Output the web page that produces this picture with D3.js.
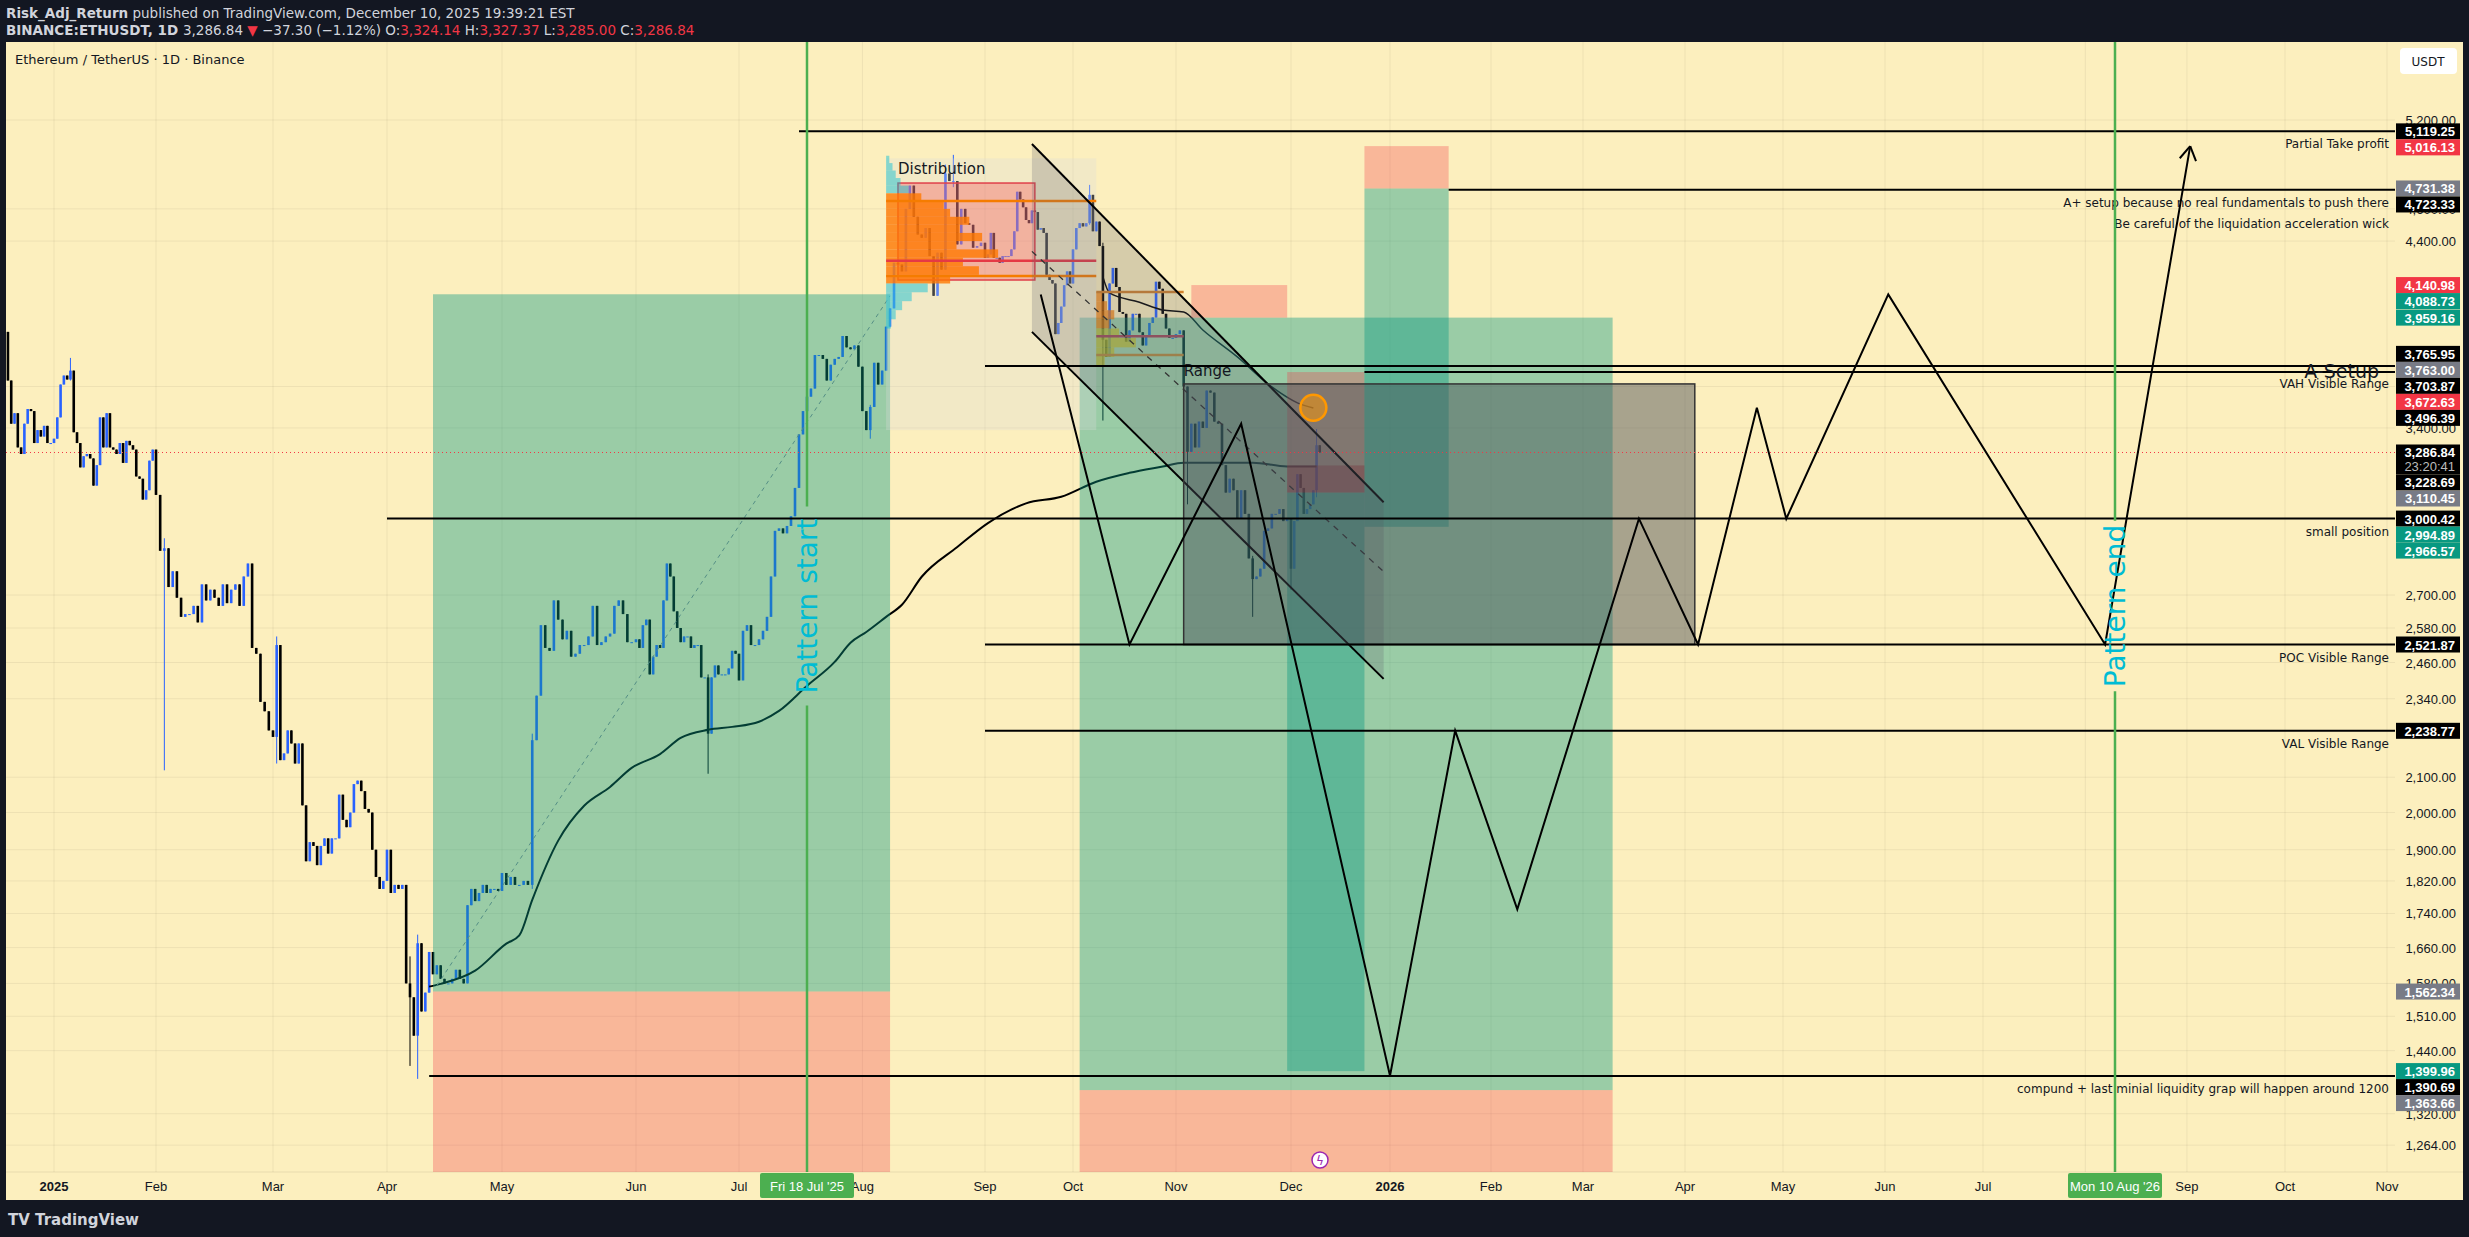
<!DOCTYPE html>
<html><head><meta charset="utf-8">
<script src="https://cdn.jsdelivr.net/npm/d3@7"></script>
<style>body{margin:0;background:#131722;overflow:hidden}svg{display:block}</style>
</head><body>
<script>
// ETHUSDT 1D daily closes, starting 2024-12-18
var startDate = '2024-12-18';
var firstOpen = 3882;
var closes = [
  3630,3420,3470,3310,3280,3420,3490,3480,3330,3390,3360,3410,3330,3330,
  // Jan
  3350,3450,3610,3655,3635,3680,3380,3330,3220,3270,3280,3260,3140,3230,3450,3310,3470,3310,3300,3280,3330,3240,3340,3320,3300,3180,3170,3080,3120,3250,3300,
  // Feb
  3100,2870,2880,2730,2790,2690,2620,2630,2630,2660,2600,2740,2680,2720,2690,2660,2740,2670,2720,2740,2660,2770,2820,2510,2490,2330,2300,2240,
  // Mar
  2220,2520,2150,2170,2240,2200,2140,2200,2020,1870,1920,1910,1860,1910,1930,1890,1930,1930,2050,1980,1960,2000,2080,2090,2060,2010,2000,1900,1830,1800,1820,
  // Apr
  1900,1790,1810,1800,1810,1580,1550,1470,1670,1520,1560,1650,1600,1620,1590,1580,1580,1590,1610,1590,1580,1760,1800,1770,1790,1810,1790,1800,1800,1795,
  // May
  1840,1810,1830,1810,1810,1820,1810,2210,2350,2590,2510,2500,2680,2610,2540,2570,2480,2490,2520,2520,2550,2660,2520,2530,2550,2560,2660,2680,2630,2530,2530,
  // Jun
  2540,2510,2590,2610,2420,2480,2520,2510,2680,2820,2770,2640,2580,2530,2550,2550,2510,2520,2520,2410,2410,2230,2410,2450,2420,2420,2420,2440,2500,2490,
  // Jul
  2400,2570,2590,2520,2520,2540,2570,2620,2770,2950,2960,2940,2970,3010,3130,3370,3480,3550,3590,3760,3760,3740,3630,3710,3740,3750,3860,3800,3790,3810,3700,
  // Aug
  3480,3390,3500,3720,3610,3680,3910,4010,4270,4260,4220,4600,4750,4550,4440,4420,4480,4310,4080,4330,4230,4830,4780,4780,4380,4600,4510,4500,4360,4370,4390,
  // Sep
  4300,4320,4450,4300,4300,4270,4310,4310,4310,4350,4460,4710,4660,4610,4530,4510,4590,4580,4470,4480,4450,4200,4170,4150,3870,3930,4020,4140,4220,4150,
  // Oct
  4350,4480,4510,4490,4510,4690,4460,4520,4370,3840,3750,4150,4240,4130,3990,3980,3830,3890,3980,3980,3880,3810,3860,3930,3960,4160,4120,3980,3900,3850,3850,
  // Nov
  3870,3890,3600,3290,3420,3310,3430,3400,3580,3570,3430,3420,3230,3110,3170,3120,3000,3120,3020,2840,2760,2770,2800,2950,2960,3020,3020,3040,2990,3000,
  // Dec
  2800,2990,3190,3130,3020,3040,3060,3120,3320,3287
];
// notable wicks [date, high, low]
var wicks = [
  ['2025-01-06',3745,3630],['2025-02-03',2920,2120],['2025-03-02',2550,2140],['2025-04-07',1640,1410],
  ['2025-04-09',1690,1385],['2025-05-08',2230,1800],['2025-06-22',2420,2110],['2025-08-03',3510,3350],
  ['2025-08-22',4890,4230],['2025-08-24',4956,4740],['2025-10-10',4390,3435],['2025-10-06',4755,4500],
  ['2025-11-04',3600,3060],['2025-11-21',2850,2620],['2025-12-01',3000,2720],['2025-12-09',3395,3090]
];

// anchored vwap (from April low)
var vwapA = [
  ['2025-04-12',1573],['2025-04-15',1579],['2025-04-24',1608],['2025-05-02',1669],['2025-05-05',1688],
  ['2025-05-08',1773],['2025-05-14',1924],['2025-05-20',2019],['2025-05-26',2072],['2025-05-31',2127],
  ['2025-06-08',2168],['2025-06-14',2217],['2025-06-22',2242],['2025-06-29',2251],['2025-07-06',2267],
  ['2025-07-11',2301],['2025-07-18',2382],['2025-07-25',2462],['2025-07-29',2528],['2025-08-02',2566],
  ['2025-08-07',2620],['2025-08-11',2664],['2025-08-16',2769],['2025-08-25',2885],['2025-09-02',2982],
  ['2025-09-15',3064],['2025-09-27',3092],['2025-10-08',3157],['2025-10-18',3196],['2025-10-28',3224],
  ['2025-11-03',3241],['2025-11-12',3241],['2025-11-21',3241],['2025-11-30',3224],['2025-12-09',3224]
];
// anchored vwap (from October)
var vwapB = [
  ['2025-10-10',4188],['2025-10-12',4096],['2025-10-21',4044],['2025-10-28',4001],['2025-11-03',3990],
  ['2025-11-08',3892],['2025-11-17',3750],['2025-11-26',3598],['2025-12-03',3520],['2025-12-08',3495]
];

// projected path
var zigzag = [
  ['2025-09-20',4088],['2025-10-18',2522],['2025-11-18',3420],['2026-01-01',1391],['2026-01-21',2239],
  ['2026-02-09',1750],['2026-03-18',3000],['2026-04-05',2522],['2026-04-23',3496],['2026-05-02',3000],
  ['2026-06-02',4088],['2026-08-07',2522],['2026-09-02',5016]
];

// horizontal levels [price, start date, note]
var levels = [
  [5119.25,'2025-07-16','Partial Take profit'],
  [4723.33,'2026-01-19',''],
  [3703.87,'2025-09-01',''],
  [3672.63,'2025-12-24',''],
  [3000.42,'2025-04-01','small position'],
  [2521.87,'2025-09-01','POC Visible Range'],
  [2238.77,'2025-09-01','VAL  Visible Range'],
  [1390.69,'2025-04-12','compund + last minial liquidity grap will happen around 1200']
];

// positions: [from, to, entry, target, stop]
var positions = [
  ['2025-04-13','2025-08-08',1562.34,4088.73,1200],
  ['2025-10-03','2026-03-10',1363.66,3959.16,1200],
  ['2025-11-30','2025-12-24',3110.45,1399.96,3672.63],
  ['2025-12-24','2026-01-19',4731.38,2966.57,5016.13]
];

// distribution volume profile (price, relative width)
var vpPrice = [4925,4875,4825,4775,4725,4675,4625,4575,4525,4475,4425,4375,4325,4275,4225,4175,4125,4075,4025,3975,3925];
var vpWidth = [2,4,6,9,14,22,36,40,52,46,60,44,70,48,58,40,26,16,10,6,3];
var vp2Price = [4075,4025,3975,3925,3875,3825,3775,3725];
var vp2Width = [10,18,30,22,38,66,30,14];

var axisTicks = [5200,4600,4400,3600,3400,2700,2580,2460,2340,2100,2000,1900,1820,1740,1660,1580,1510,1440,1320,1264];
var priceLabels = [
  [5119.25,'#000'],[5016.13,'#f23645'],[4731.38,'#787b86'],[4723.33,'#000'],[4140.98,'#f23645'],
  [4088.73,'#089981'],[3959.16,'#089981'],[3765.95,'#000'],[3763.00,'#787b86'],[3703.87,'#000'],
  [3672.63,'#f23645'],[3496.39,'#000'],[3286.84,'#000'],[3228.69,'#000'],[3110.45,'#787b86'],
  [3000.42,'#000'],[2994.89,'#089981'],[2966.57,'#089981'],[2521.87,'#000'],[2238.77,'#000'],
  [1562.34,'#787b86'],[1399.96,'#089981'],[1390.69,'#000'],[1363.66,'#787b86']
];
var monthNames = ['2025','Feb','Mar','Apr','May','Jun','Jul','Aug','Sep','Oct','Nov','Dec',
                  '2026','Feb','Mar','Apr','May','Jun','Jul','','Sep','Oct','Nov'];
// time axis calibration (TradingView compresses spacing a little)
var timeAnchors = ['2025-01-01','2025-02-01','2025-03-01','2025-04-01','2025-05-01','2025-06-01','2025-07-01','2025-07-18',
  '2025-09-01','2025-10-01','2025-11-01','2025-12-01','2026-01-01','2026-02-01','2026-03-01','2026-04-01','2026-05-01',
  '2026-06-01','2026-07-01','2026-08-10','2026-10-01','2026-11-01'];
var timePixels = [54,156,273,387,502,636,739,807,985,1073,1176,1291,1390,1491,1583,1685,1783,1885,1983,2115,2285,2387];

var W = 2469, H = 1237;
var L = 6, R = 2395, T = 42, B = 1172;
var parse = d3.utcParse('%Y-%m-%d');
var fmt = d3.format(',.2f');
var axisFont = '"Liberation Sans", Arial, sans-serif';

var x = d3.scaleUtc().domain(timeAnchors.map(parse)).range(timePixels);
var y = d3.scaleLog().domain([1218, 5791]).range([B, T]);

var svg = d3.select('body').append('svg').attr('width', W).attr('height', H)
  .style('font-family', '"DejaVu Sans", sans-serif');
svg.append('rect').attr('width', W).attr('height', H).attr('fill', '#131722');
svg.append('rect').attr('x', L).attr('y', T).attr('width', 2463 - L).attr('height', 1200 - T).attr('fill', '#fcefbe');

// header
var h1 = svg.append('text').attr('x', 6).attr('y', 18).attr('fill', '#d1d4dc').attr('font-size', 13.5);
h1.append('tspan').attr('font-weight', 'bold').text('Risk_Adj_Return');
h1.append('tspan').text(' published on TradingView.com, December 10, 2025 19:39:21 EST');
var h2 = svg.append('text').attr('x', 6).attr('y', 35).attr('fill', '#d1d4dc').attr('font-size', 13.5);
h2.append('tspan').attr('font-weight', 'bold').text('BINANCE:ETHUSDT, 1D ');
h2.append('tspan').text('3,286.84 ');
h2.append('tspan').attr('fill', '#f23645').text('▼ ');
h2.append('tspan').text('−37.30 (−1.12%) O:');
h2.append('tspan').attr('fill', '#f23645').text('3,324.14');
h2.append('tspan').text(' H:');
h2.append('tspan').attr('fill', '#f23645').text('3,327.37');
h2.append('tspan').text(' L:');
h2.append('tspan').attr('fill', '#f23645').text('3,285.00');
h2.append('tspan').text(' C:');
h2.append('tspan').attr('fill', '#f23645').text('3,286.84');

svg.append('defs').append('clipPath').attr('id', 'pc')
  .append('rect').attr('x', L).attr('y', T).attr('width', R - L).attr('height', B - T);
var g = svg.append('g').attr('clip-path', 'url(#pc)');

// grid
var monthDates = monthNames.map(function(m, i) { return new Date(Date.UTC(2025, i, 1)); });
g.selectAll('.vg').data(monthDates).enter().append('line')
  .attr('x1', function(d) { return x(d); }).attr('x2', function(d) { return x(d); })
  .attr('y1', T).attr('y2', B).attr('stroke', 'rgba(0,0,0,0.06)');
g.selectAll('.hg').data(axisTicks).enter().append('line')
  .attr('x1', L).attr('x2', R).attr('y1', function(d) { return y(d); }).attr('y2', function(d) { return y(d); })
  .attr('stroke', 'rgba(0,0,0,0.06)');

// candles
var t0 = parse(startDate);
var wickMap = {};
wicks.forEach(function(w) { wickMap[w[0]] = w; });
var candles = closes.map(function(c, i) {
  var d = d3.utcDay.offset(t0, i);
  var o = i ? closes[i - 1] : firstOpen;
  var w = wickMap[d3.utcFormat('%Y-%m-%d')(d)];
  return {d: d, o: o, c: c, h: w ? w[1] : Math.max(o, c), l: w ? w[2] : Math.min(o, c)};
});
var cg = g.selectAll('.c').data(candles).enter().append('g');
cg.append('line').attr('x1', function(d) { return x(d.d); }).attr('x2', function(d) { return x(d.d); })
  .attr('y1', function(d) { return y(d.h); }).attr('y2', function(d) { return y(d.l); })
  .attr('stroke', function(d) { return d.c >= d.o ? '#2962ff' : '#000'; }).attr('stroke-width', 1);
cg.append('rect').attr('x', function(d) { return x(d.d) - 1.3; }).attr('width', 2.6)
  .attr('y', function(d) { return y(Math.max(d.o, d.c)); })
  .attr('height', function(d) { return Math.max(1, Math.abs(y(d.o) - y(d.c))); })
  .attr('fill', function(d) { return d.c >= d.o ? '#2962ff' : '#000'; });

function P(a) { return [x(parse(a[0])), y(a[1])]; }
var line = d3.line();

// anchored vwaps
g.append('path').attr('d', d3.line().curve(d3.curveMonotoneX)(vwapA.map(P)))
  .attr('fill', 'none').attr('stroke', '#000').attr('stroke-width', 2);
g.append('path').attr('d', d3.line().curve(d3.curveMonotoneX)(vwapB.map(P)))
  .attr('fill', 'none').attr('stroke', '#000').attr('stroke-width', 1.5);

// dashed trend from April low
g.append('path').attr('d', line([P(['2025-04-14', 1575]), P(['2025-08-08', 4080])]))
  .attr('stroke', '#888').attr('stroke-dasharray', '4,4').attr('fill', 'none');

// positions
positions.forEach(function(p) {
  var x0 = x(parse(p[0])), x1 = x(parse(p[1]));
  g.append('rect').attr('x', x0).attr('width', x1 - x0)
    .attr('y', y(Math.max(p[2], p[3]))).attr('height', Math.abs(y(p[2]) - y(p[3])))
    .attr('fill', 'rgba(8,153,129,0.4)');
  g.append('rect').attr('x', x0).attr('width', x1 - x0)
    .attr('y', y(Math.max(p[2], p[4]))).attr('height', Math.abs(y(p[2]) - y(p[4])))
    .attr('fill', 'rgba(242,54,69,0.3)');
});
// extra stop zone
g.append('rect').attr('x', x(parse('2025-11-05'))).attr('width', x(parse('2025-11-30')) - x(parse('2025-11-05')))
  .attr('y', y(4140.98)).attr('height', y(3959.16) - y(4140.98)).attr('fill', 'rgba(242,54,69,0.3)');
g.append('rect').attr('x', x(parse('2025-11-30'))).attr('width', x(parse('2025-12-24')) - x(parse('2025-11-30')))
  .attr('y', y(3228.69)).attr('height', y(3110.45) - y(3228.69)).attr('fill', 'rgba(160,20,30,0.35)');

// distribution zone
var dx0 = x(parse('2025-08-07')), dx1 = x(parse('2025-10-08'));
g.append('rect').attr('x', dx0).attr('width', dx1 - dx0).attr('y', y(4932)).attr('height', y(3390) - y(4932))
  .attr('fill', 'rgba(220,220,220,0.3)');
var rx0 = x(parse('2025-08-10')), rx1 = x(parse('2025-09-18'));
g.append('rect').attr('x', rx0).attr('width', rx1 - rx0).attr('y', y(4767)).attr('height', y(4170) - y(4767))
  .attr('fill', 'rgba(242,54,69,0.3)').attr('stroke', '#e0404a').attr('stroke-width', 1.5);
vpPrice.forEach(function(p, i) {
  var inVA = p <= 4675 && p >= 4175;
  g.append('rect').attr('x', dx0).attr('width', vpWidth[i] * 1.6).attr('y', y(p + 25)).attr('height', y(p - 25) - y(p + 25))
    .attr('fill', inVA ? 'rgba(255,120,0,0.8)' : 'rgba(0,188,212,0.45)');
});
[[4650, '#f57c00'], [4193, '#f57c00'], [4283, '#e53945']].forEach(function(l) {
  g.append('line').attr('x1', dx0).attr('x2', dx1).attr('y1', y(l[0])).attr('y2', y(l[0]))
    .attr('stroke', l[1]).attr('stroke-width', 2.5);
});
var vx0 = x(parse('2025-10-08')), vx1 = x(parse('2025-11-03'));
vp2Price.forEach(function(p, i) {
  g.append('rect').attr('x', vx0).attr('width', vp2Width[i] * 0.6).attr('y', y(p + 25)).attr('height', y(p - 25) - y(p + 25))
    .attr('fill', i < 4 ? 'rgba(245,124,0,0.7)' : 'rgba(190,190,40,0.7)');
});
[[4102, '#d1802a'], [3760, '#b08a40'], [3858, '#9c4b5a']].forEach(function(l) {
  g.append('line').attr('x1', vx0).attr('x2', vx1).attr('y1', y(l[0])).attr('y2', y(l[0]))
    .attr('stroke', l[1]).attr('stroke-width', 2.5);
});
svg.append('text').attr('x', rx0).attr('y', y(4767) - 9).attr('font-size', 15).attr('fill', '#131722').text('Distribution');

// descending channel
var cu0 = P(['2025-09-17', 5031]), cu1 = P(['2025-12-30', 3069]);
var cl0 = P(['2025-09-17', 3882]), cl1 = P(['2025-12-30', 2405]);
g.append('path').attr('d', line([cu0, cu1, cl1, cl0]) + 'Z').attr('fill', 'rgba(100,100,110,0.25)');
g.append('path').attr('d', line([cu0, cu1])).attr('stroke', '#000').attr('stroke-width', 2);
g.append('path').attr('d', line([cl0, cl1])).attr('stroke', '#000').attr('stroke-width', 2);
g.append('path').attr('d', line([P(['2025-09-17', 4338]), P(['2025-12-30', 2789])]))
  .attr('stroke', '#333').attr('stroke-dasharray', '6,6').attr('stroke-width', 1.3);

// range box
var ra0 = x(parse('2025-11-03')), ra1 = x(parse('2026-04-04'));
g.append('rect').attr('x', ra0).attr('width', ra1 - ra0).attr('y', y(3613)).attr('height', y(2521.87) - y(3613))
  .attr('fill', 'rgba(67,70,81,0.45)').attr('stroke', '#333').attr('stroke-width', 1.5);
g.append('text').attr('x', ra0).attr('y', y(3613) - 8).attr('font-size', 15).attr('fill', '#131722').text('Range');

// levels
var labelX = 2389;
levels.forEach(function(l) {
  g.append('line').attr('x1', x(parse(l[1]))).attr('x2', R).attr('y1', y(l[0])).attr('y2', y(l[0]))
    .attr('stroke', '#000').attr('stroke-width', 2);
  if (l[2]) g.append('text').attr('x', labelX).attr('y', y(l[0]) + 17).attr('text-anchor', 'end')
    .attr('font-size', 12).attr('fill', '#131722').text(l[2]);
});
g.append('text').attr('x', labelX).attr('y', y(4723.33) + 17).attr('text-anchor', 'end').attr('font-size', 12)
  .attr('fill', '#131722').text('A+ setup because no real fundamentals to push there');
g.append('text').attr('x', labelX).attr('y', y(4723.33) + 38).attr('text-anchor', 'end').attr('font-size', 12)
  .attr('fill', '#131722').text('Be careful of the liquidation acceleration wick');
g.append('text').attr('x', labelX).attr('y', y(3672.63) + 16).attr('text-anchor', 'end').attr('font-size', 12)
  .attr('fill', '#131722').text('VAH Visible Range');
g.append('text').attr('x', labelX - 10).attr('y', y(3672.63) + 6).attr('text-anchor', 'end').attr('font-size', 19)
  .attr('fill', '#131722').text('A-Setup');

// current price dotted line
g.append('line').attr('x1', L).attr('x2', R).attr('y1', y(3286.84)).attr('y2', y(3286.84))
  .attr('stroke', '#f23645').attr('stroke-dasharray', '1,3');

// orange circle
var oc = P(['2025-12-08', 3496]);
g.append('circle').attr('cx', oc[0]).attr('cy', oc[1]).attr('r', 13)
  .attr('fill', 'rgba(255,152,0,0.5)').attr('stroke', '#ff9800').attr('stroke-width', 2.5);

// projected zigzag with arrow
var zz = zigzag.map(P);
g.append('path').attr('d', line(zz)).attr('fill', 'none').attr('stroke', '#000').attr('stroke-width', 2);
var a = zz[zz.length - 1], b = zz[zz.length - 2];
var ang = Math.atan2(a[1] - b[1], a[0] - b[0]);
[ang + 2.6, ang - 2.6].forEach(function(t) {
  g.append('line').attr('x1', a[0]).attr('y1', a[1]).attr('x2', a[0] + 16 * Math.cos(t)).attr('y2', a[1] + 16 * Math.sin(t))
    .attr('stroke', '#000').attr('stroke-width', 2);
});

// pattern verticals
[['2025-07-18', 'Pattern start'], ['2026-08-10', 'Pattern end']].forEach(function(v) {
  var vx = x(parse(v[0])), cy = 606, half = v[1].length * 7.2;
  g.append('line').attr('x1', vx).attr('x2', vx).attr('y1', T).attr('y2', cy - half - 6).attr('stroke', '#4caf50').attr('stroke-width', 2.5);
  g.append('line').attr('x1', vx).attr('x2', vx).attr('y1', cy + half + 6).attr('y2', B).attr('stroke', '#4caf50').attr('stroke-width', 2.5);
  g.append('text').attr('transform', 'translate(' + (vx + 10) + ',' + cy + ') rotate(-90)')
    .attr('text-anchor', 'middle').attr('font-size', 28).attr('fill', '#00bcd4').text(v[1]);
});

// lightning marker
svg.append('circle').attr('cx', 1320).attr('cy', 1160).attr('r', 8).attr('fill', '#fff').attr('stroke', '#9c27b0').attr('stroke-width', 1.5);
svg.append('text').attr('x', 1320).attr('y', 1165).attr('text-anchor', 'middle').attr('font-size', 12).attr('fill', '#9c27b0').text('ϟ');

svg.append('text').attr('x', 15).attr('y', 64).attr('font-size', 13).attr('fill', '#131722').text('Ethereum / TetherUS · 1D · Binance');

// time axis
svg.append('line').attr('x1', L).attr('x2', 2463).attr('y1', B).attr('y2', B).attr('stroke', 'rgba(0,0,0,0.08)');
svg.selectAll('.ml').data(monthDates).enter().append('text')
  .attr('x', function(d) { return x(d); }).attr('y', 1191).attr('text-anchor', 'middle').style('font-family', axisFont)
  .attr('font-size', 13).attr('fill', '#131722').attr('font-weight', function(d, i) { return i % 12 ? 'normal' : 'bold'; })
  .text(function(d, i) { return monthNames[i]; });
[['2025-07-18', "Fri 18 Jul '25"], ['2026-08-10', "Mon 10 Aug '26"]].forEach(function(v) {
  var vx = x(parse(v[0]));
  svg.append('rect').attr('x', vx - 47).attr('y', B + 1).attr('width', 94).attr('height', 25).attr('rx', 2).attr('fill', '#4caf50');
  svg.append('text').attr('x', vx).attr('y', 1191).attr('text-anchor', 'middle').style('font-family', axisFont)
    .attr('font-size', 13).attr('fill', '#fff').text(v[1]);
});

// price axis
svg.selectAll('.yt').data(axisTicks).enter().append('text')
  .attr('x', 2456).attr('y', function(d) { return y(d) + 5; }).attr('text-anchor', 'end').style('font-family', axisFont)
  .attr('font-size', 13).attr('fill', '#131722').text(fmt);
var pls = priceLabels.map(function(p) { return {v: p[0], c: p[1], y: y(p[0])}; }).sort(function(a, b) { return a.y - b.y; });
for (var i = 1; i < pls.length; i++) {
  var gap = pls[i - 1].v === 3286.84 ? 30 : 16;
  if (pls[i].y - pls[i - 1].y < gap) pls[i].y = pls[i - 1].y + gap;
}
pls.forEach(function(p) {
  var extra = p.v === 3286.84 ? 14 : 0;
  svg.append('rect').attr('x', 2396).attr('y', p.y - 8).attr('width', 64).attr('height', 16 + extra).attr('fill', p.c);
  svg.append('text').attr('x', 2455).attr('y', p.y + 5).attr('text-anchor', 'end').style('font-family', axisFont)
    .attr('font-size', 13).attr('font-weight', 'bold').attr('fill', '#fff').text(fmt(p.v));
  if (extra) svg.append('text').attr('x', 2455).attr('y', p.y + 19).attr('text-anchor', 'end').style('font-family', axisFont)
    .attr('font-size', 13).attr('fill', '#bbb').text('23:20:41');
});
svg.append('rect').attr('x', 2400).attr('y', 48).attr('width', 57).attr('height', 26).attr('rx', 4).attr('fill', '#fff');
svg.append('text').attr('x', 2428).attr('y', 66).attr('text-anchor', 'middle').attr('font-size', 12).attr('fill', '#131722').text('USDT');

svg.append('text').attr('x', 8).attr('y', 1225).attr('font-size', 15).attr('font-weight', 'bold').attr('fill', '#d1d4dc').text('TV TradingView');
</script>
</body></html>
